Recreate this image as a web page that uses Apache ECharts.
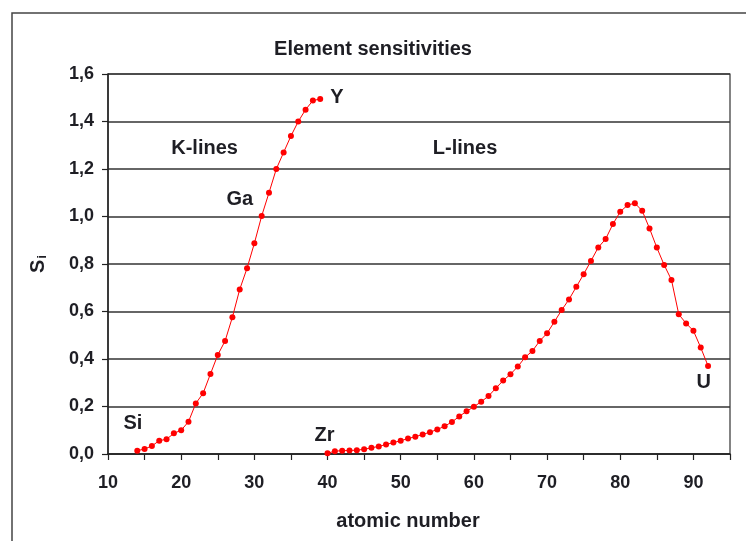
<!DOCTYPE html>
<html>
<head>
<meta charset="utf-8">
<script src="https://cdn.jsdelivr.net/npm/echarts@6/dist/echarts.min.js"></script>
<style>
html,body{margin:0;padding:0;background:#fff;}
#c{width:746px;height:541px;}
</style>
</head>
<body>
<div id="c"></div>
<script>
var kZ = [14,15,16,17,18,19,20,21,22,23,24,25,26,27,28,29,30,31,32,33,34,35,36,37,38,39];
var kS = [0.014,0.021,0.034,0.056,0.062,0.087,0.100,0.136,0.213,0.256,0.337,0.417,0.476,0.576,0.693,0.782,0.887,1.002,1.100,1.200,1.270,1.339,1.400,1.450,1.488,1.495];
var lZ = [40,41,42,43,44,45,46,47,48,49,50,51,52,53,54,55,56,57,58,59,60,61,62,63,64,65,66,67,68,69,70,71,72,73,74,75,76,77,78,79,80,81,82,83,84,85,86,87,88,89,90,91,92];
var lS = [0.003,0.012,0.014,0.015,0.016,0.020,0.026,0.032,0.040,0.048,0.056,0.065,0.073,0.082,0.092,0.103,0.117,0.135,0.158,0.180,0.199,0.220,0.244,0.277,0.309,0.336,0.368,0.407,0.434,0.476,0.508,0.557,0.606,0.651,0.704,0.757,0.813,0.870,0.905,0.968,1.020,1.048,1.056,1.024,0.950,0.869,0.796,0.733,0.588,0.550,0.519,0.448,0.371];
var noteText = ['K-lines','L-lines','Ga','Y','Si','Zr','U'];
var noteX = [23.2,58.8,28.0,41.3,13.4,39.6,91.4];
var noteY = [1.288,1.288,1.07,1.50,0.13,0.08,0.30];
var titleText = 'Element sensitivities';
var xName = 'atomic number';

function zip(a,b){return a.map(function(v,i){return [v,b[i]];});}
var chart = echarts.init(document.getElementById('c'), null, {renderer:'canvas'});
var font = '"Liberation Sans", Arial, sans-serif';
var txt = '#1e1e24';
chart.setOption({
  animation:false,
  backgroundColor:'#fff',
  title:{text:titleText,left:'center',top:34,textStyle:{fontFamily:font,fontSize:20,fontWeight:'bold',color:txt}},
  grid:{left:108,right:16,top:74,bottom:87,show:true,borderColor:'#333',borderWidth:1.2,backgroundColor:'transparent'},
  xAxis:{type:'value',min:10,max:95,interval:5,
    axisLine:{lineStyle:{color:'#222',width:1.5}},
    axisTick:{length:6,lineStyle:{color:'#222',width:1.2}},
    axisLabel:{margin:20,fontFamily:font,fontSize:18,fontWeight:'bold',color:txt,
      formatter:function(v){return v%10===0 && v<95 ? String(v) : '';}},
    splitLine:{show:false}},
  yAxis:{type:'value',min:0,max:1.6,interval:0.2,
    axisLine:{show:true,lineStyle:{color:'#222',width:1.5}},
    axisTick:{show:true,length:6,lineStyle:{color:'#222',width:1.2}},
    axisLabel:{margin:14,fontFamily:font,fontSize:18,fontWeight:'bold',color:txt,
      formatter:function(v){return v.toFixed(1).replace('.',',');}},
    splitLine:{show:true,lineStyle:{color:'#333',width:1.5}}},
  graphic:[
    {type:'rect',shape:{x:12,y:13,width:800,height:600},style:{fill:'none',stroke:'#444',lineWidth:1.5},z:-1},
    {type:'text',x:408,y:521,
      style:{text:xName,align:'center',verticalAlign:'middle',fontFamily:font,fontSize:20,fontWeight:'bold',fill:txt}},
    {type:'text',x:38,y:264,rotation:Math.PI/2,
      style:{text:'{s|S}{i|i}',align:'center',verticalAlign:'middle',
        rich:{s:{fontFamily:font,fontSize:20,fontWeight:'bold',fill:txt},
              i:{fontFamily:font,fontSize:13,fontWeight:'bold',fill:txt,padding:[9,0,0,1]}}}}
  ],
  series:[
    {type:'line',data:zip(kZ,kS),symbol:'circle',symbolSize:6,showSymbol:true,
      lineStyle:{color:'#ff0000',width:1},itemStyle:{color:'#ff0000'}},
    {type:'line',data:zip(lZ,lS),symbol:'circle',symbolSize:6,showSymbol:true,
      lineStyle:{color:'#ff0000',width:1},itemStyle:{color:'#ff0000'}},
    {type:'scatter',symbolSize:0,silent:true,itemStyle:{opacity:1},
      data:noteText.map(function(t,i){return {value:[noteX[i],noteY[i]],name:t};}),
      label:{show:true,position:'inside',formatter:function(p){return p.name;},
        fontFamily:font,fontSize:20,fontWeight:'bold',color:txt,opacity:1}}
  ]
});
</script>
</body>
</html>
